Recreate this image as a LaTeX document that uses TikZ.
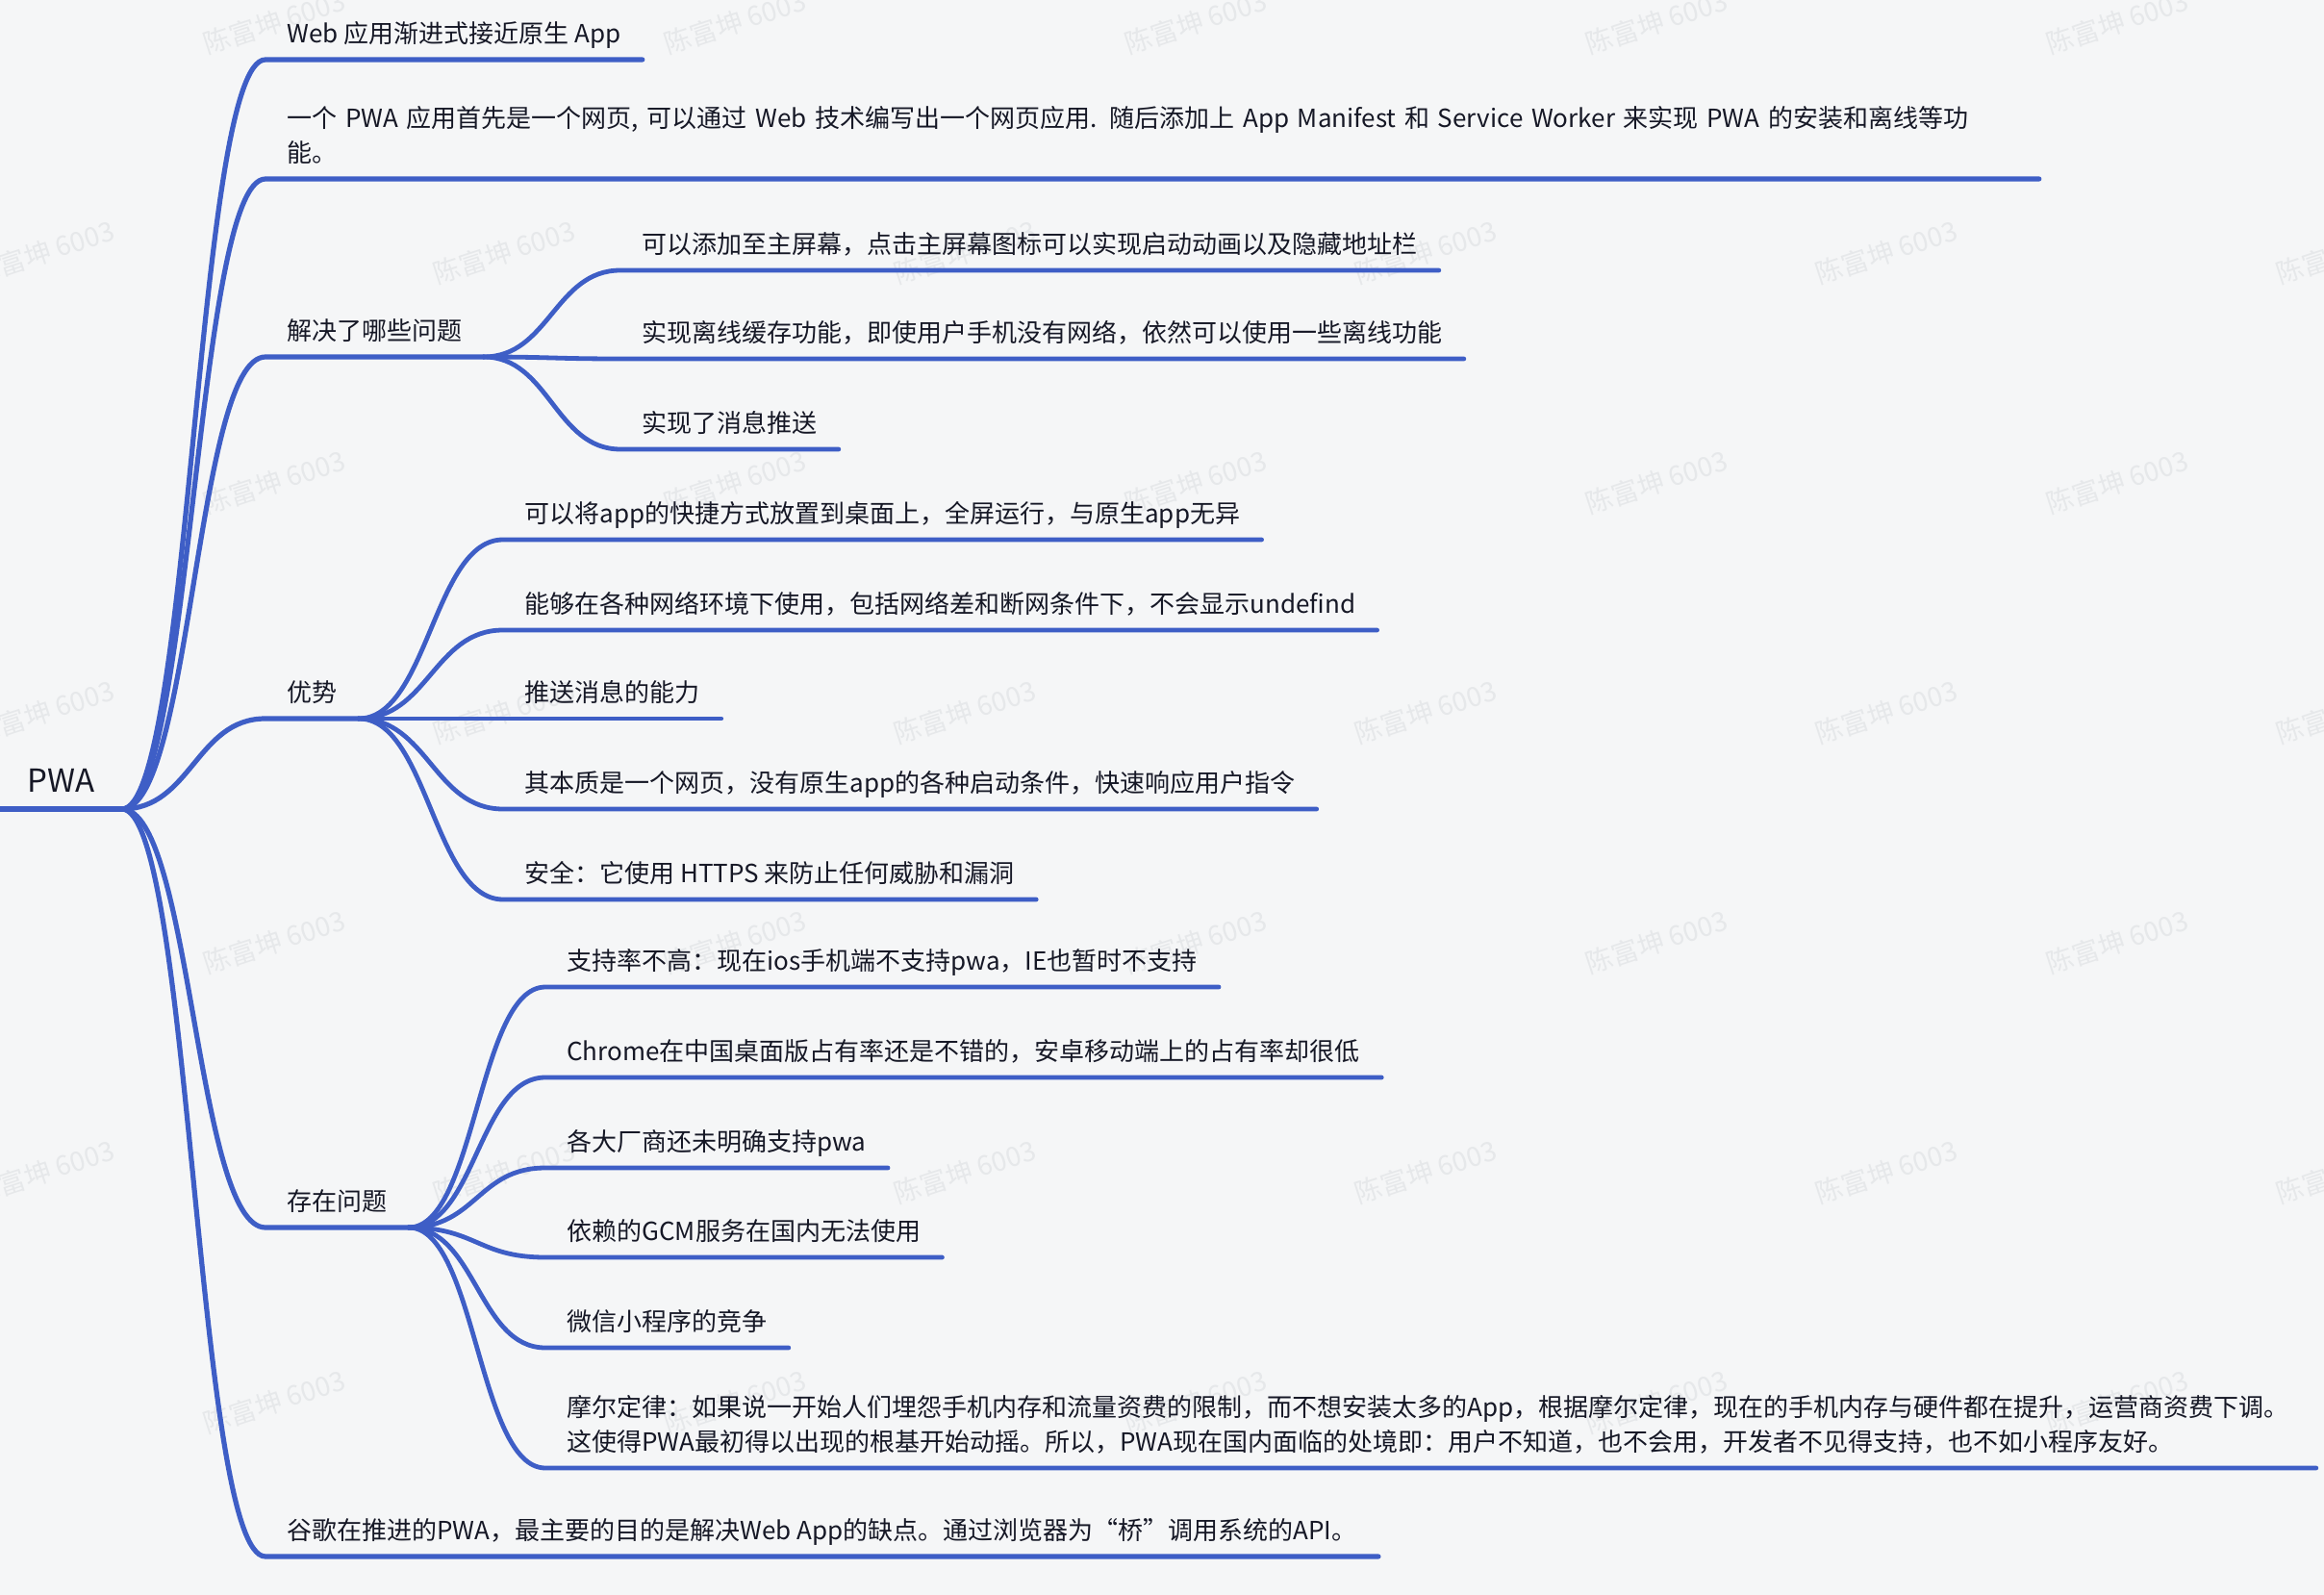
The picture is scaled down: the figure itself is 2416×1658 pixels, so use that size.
\documentclass[tikz,border=0pt]{standalone}
\usepackage{fontspec}
\setmainfont{Noto Sans CJK SC}
\usetikzlibrary{positioning}

\definecolor{limbblue}{HTML}{3E5EC6}
\definecolor{inkcol}{HTML}{161826}
\definecolor{paper}{HTML}{F5F6F7}
\definecolor{markgray}{HTML}{E6E8EA}

\newcommand\leaffont{\fontsize{13pt}{18pt}\selectfont}
\newcommand\rootfont{\fontsize{16.5pt}{20pt}\selectfont}
\newcommand\markfont{\fontsize{14pt}{16pt}\selectfont}

\tikzset{
  topic/.style={anchor=south west, inner xsep=11pt, inner ysep=3.1pt, text=inkcol,
    font=\leaffont, execute at end node=\strut},
  longtopic/.style={topic, align=left, text width=#1},
  roottopic/.style={anchor=south west, inner xsep=14pt, inner ysep=2.5pt, text=inkcol,
    font=\rootfont, execute at end node=\strut},
  limb/.style={draw=limbblue, line width=2.6pt, line cap=round, line join=round},
  twig/.style={limb, line width=2.4pt},
  branch/.style={to path={.. controls +(#1,0) and +(-#1,0) .. (\tikztotarget.south west)
    -- (\tikztotarget.south east)}},
  branch/.default=72,
  watermark/.style={text=markgray, font=\markfont, rotate=18, inner sep=0pt}
}

\begin{document}
\begin{tikzpicture}[x=0.5pt, y=-0.5pt]
    \useasboundingbox (0,0) rectangle (2416,1658);
    \fill[paper] (0,0) rectangle (2416,1658);

    % Watermark grid
    \foreach \r in {0,...,6}
      \foreach \k in {0,...,5}
        \node[watermark] (wm-\r-\k) at ({45+240*mod(\r+1,2)+479*\k},{23+239*\r}) {陈富坤 6003};

    % Root
    \node[roottopic] (pwa) at (0,841) {PWA};

    % First level
    \node[topic] (web) at (276,62) {Web 应用渐进式接近原生 App};
    \node[longtopic=899.5pt] (page) at (276,186)
      {一个 PWA 应用首先是一个网页, 可以通过 Web 技术编写出一个网页应用. 随后添加上 App Manifest 和 Service Worker 来实现 PWA 的安装和离线等功\\能。};
    \node[topic] (solve) at (276,371) {解决了哪些问题};
    \node[topic] (merit) at (276,747) {优势};
    \node[topic] (issue) at (276,1276) {存在问题};
    \node[topic] (google) at (276,1618) {谷歌在推进的PWA，最主要的目的是解决Web App的缺点。通过浏览器为“桥”调用系统的API。};

    % Under solve
    \node[topic] (solve1) at (645,281) {可以添加至主屏幕，点击主屏幕图标可以实现启动动画以及隐藏地址栏};
    \node[topic] (solve2) at (645,373) {实现离线缓存功能，即使用户手机没有网络，依然可以使用一些离线功能};
    \node[topic] (solve3) at (645,467) {实现了消息推送};

    % Under merit
    \node[topic] (merit1) at (523,561) {可以将app的快捷方式放置到桌面上，全屏运行，与原生app无异};
    \node[topic] (merit2) at (523,655) {能够在各种网络环境下使用，包括网络差和断网条件下，不会显示undefind};
    \node[topic] (merit3) at (523,747) {推送消息的能力};
    \node[topic] (merit4) at (523,841) {其本质是一个网页，没有原生app的各种启动条件，快速响应用户指令};
    \node[topic] (merit5) at (523,935) {安全：它使用 HTTPS 来防止任何威胁和漏洞};

    % Under issue
    \node[topic] (issue1) at (567,1026) {支持率不高：现在ios手机端不支持pwa，IE也暂时不支持};
    \node[topic] (issue2) at (567,1120) {Chrome在中国桌面版占有率还是不错的，安卓移动端上的占有率却很低};
    \node[topic] (issue3) at (567,1214) {各大厂商还未明确支持pwa};
    \node[topic] (issue4) at (567,1307) {依赖的GCM服务在国内无法使用};
    \node[topic] (issue5) at (567,1401) {微信小程序的竞争};
    \node[longtopic=898pt] (issue6) at (567,1526)
      {摩尔定律：如果说一开始人们埋怨手机内存和流量资费的限制，而不想安装太多的App，根据摩尔定律，现在的手机内存与硬件都在提升，运营商资费下调。\\这使得PWA最初得以出现的根基开始动摇。所以，PWA现在国内面临的处境即：用户不知道，也不会用，开发者不见得支持，也不如小程序友好。};

    % Branches
    \draw[limb] (pwa.south west) -- (pwa.south east);
    \path[limb]
        (pwa.south east) edge[branch] (web)
                         edge[branch] (page)
                         edge[branch] (solve)
                         edge[branch] (merit)
                         edge[branch] (issue)
                         edge[branch] (google);
    \path[twig]
        (solve.south east) edge[branch=68] (solve1)
                           edge[branch=68] (solve2)
                           edge[branch=68] (solve3)
        (merit.south east) edge[branch=72] (merit1)
                           edge[branch=72] (merit2)
                           edge[branch=72] (merit3)
                           edge[branch=72] (merit4)
                           edge[branch=72] (merit5)
        (issue.south east) edge[branch=70] (issue1)
                           edge[branch=70] (issue2)
                           edge[branch=70] (issue3)
                           edge[branch=70] (issue4)
                           edge[branch=70] (issue5)
                           edge[branch=70] (issue6);
\end{tikzpicture}
\end{document}
